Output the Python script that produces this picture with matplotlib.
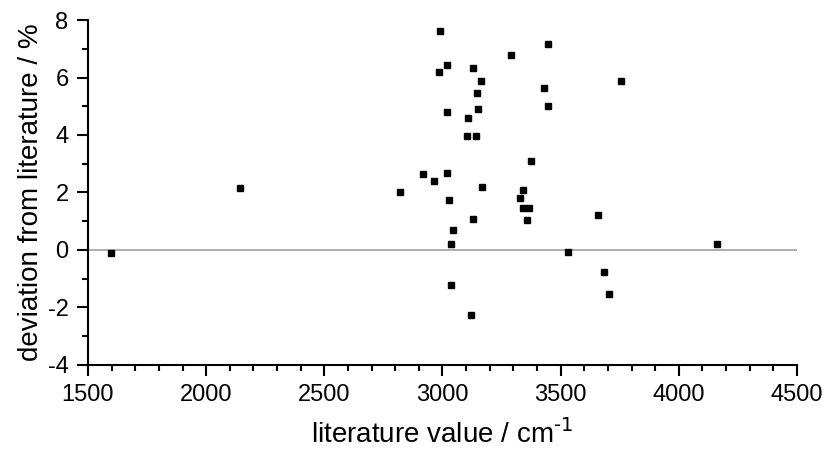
import matplotlib
matplotlib.use('Agg')
import matplotlib.pyplot as plt
from matplotlib.ticker import MultipleLocator

plt.rcParams['font.family'] = ['Liberation Sans', 'DejaVu Sans']
plt.rcParams['mathtext.default'] = 'regular'
plt.rcParams['axes.unicode_minus'] = False

# valores
literatura = [1597, 2144, 2822, 2918, 2963, 2988, 2987, 3019, 3019, 3019, 3027,
              3043, 3035, 3038, 3120, 3131, 3145, 3149, 3162, 3108, 3104, 3142,
              3169, 3129, 3291, 3445, 3428, 3445, 3376, 3339, 3326, 3339, 3365,
              3356, 3532, 3659, 3682, 3705, 3757, 4162]
desvio = [-0.09, 2.17, 2.01, 2.63, 2.40, 7.63, 6.20, 6.43, 4.79, 2.69, 1.75,
          0.70, 0.22, -1.22, -2.26, 6.32, 5.46, 4.91, 5.88, 4.58, 3.97, 3.97,
          2.20, 1.08, 6.79, 7.15, 5.64, 5.01, 3.09, 2.10, 1.80, 1.46, 1.45,
          1.05, -0.06, 1.22, -0.75, -1.52, 5.87, 0.19]

fig = plt.figure(figsize=(8.27, 4.55), dpi=100)
ax = fig.add_axes([0.1064, 0.198, 0.8573, 0.758])

ax.axhline(0, color='#a0a0a0', linewidth=1.2, zorder=1)
ax.plot(literatura, desvio, linestyle='none', marker='s', markersize=5,
        color='black', zorder=3)

ax.set_xlim(1500, 4500)
ax.set_ylim(-4, 8)
ax.xaxis.set_major_locator(MultipleLocator(500))
ax.xaxis.set_minor_locator(MultipleLocator(100))
ax.yaxis.set_major_locator(MultipleLocator(2))
ax.yaxis.set_minor_locator(MultipleLocator(1))

for lado in ['top', 'right']:
    ax.spines[lado].set_visible(False)
for lado in ['left', 'bottom']:
    ax.spines[lado].set_linewidth(1.5)

ax.tick_params(which='major', direction='out', length=8, width=1.5, labelsize=17, pad=6)
ax.tick_params(which='minor', direction='out', length=4.5, width=1.5)

ax.set_xlabel(r'literature value / cm$^{\text{-1}}$', fontsize=20, labelpad=10)
ax.set_ylabel('deviation from literature / %', fontsize=20, labelpad=3)

plt.savefig('out.png', dpi=100)
